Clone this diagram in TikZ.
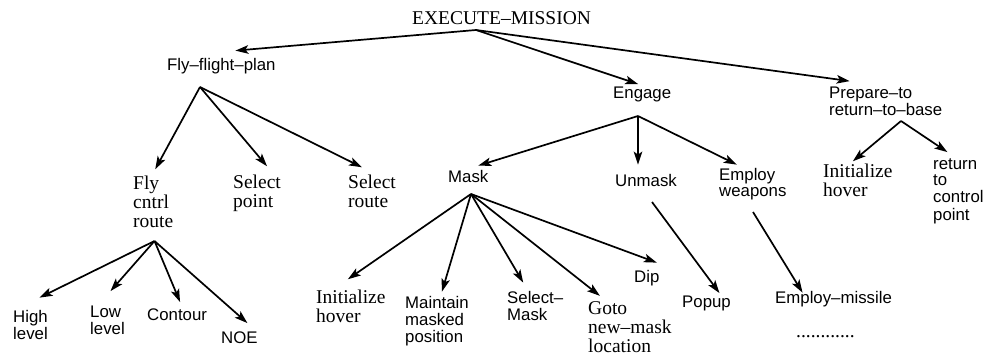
\documentclass[tikz,border=0pt]{standalone}
\usepackage{fontspec}
\setmainfont{Liberation Serif}
\setsansfont{Liberation Sans}
\usetikzlibrary{arrows.meta}
\newcommand{\lns}[1]{\begin{tabular}[t]{@{}l@{}}#1\end{tabular}}

\begin{document}
\begin{tikzpicture}[x=1pt,y=-1pt,
  rm/.style={inner sep=0pt,anchor=base west,font=\fontsize{19.5}{19}\selectfont},
  sf/.style={inner sep=0pt,anchor=base west,font=\sffamily\fontsize{16.8}{16.7}\selectfont},
  arr/.style={-{Stealth[length=13pt,width=8.5pt,inset=3pt]},line width=1.7pt}]
\useasboundingbox (0,0) rectangle (984,356);
\node[rm] (em) at (412,24) {\lns{EXECUTE–MISSION}};
\node[sf] (ffp) at (167,70) {\lns{Fly–flight–plan}};
\node[sf] (eng) at (613,98) {\lns{Engage}};
\node[sf] (ptb) at (829,98) {\lns{Prepare–to\\return–to–base}};
\node[rm] (fcr) at (133,189) {\lns{Fly\\cntrl\\route}};
\node[rm] (spt) at (233,188) {\lns{Select\\point}};
\node[rm] (srt) at (348,188) {\lns{Select\\route}};
\node[sf] (mask) at (448,182) {\lns{Mask}};
\node[sf] (unm) at (615,186) {\lns{Unmask}};
\node[sf] (ewp) at (719,180) {\lns{Employ\\weapons}};
\node[rm] (ih1) at (823,177) {\lns{Initialize\\hover}};
\node[sf] (rtc) at (933,169) {\lns{return\\to\\control\\point}};
\node[sf] (hl) at (13,322) {\lns{High\\level}};
\node[sf] (ll) at (90,317) {\lns{Low\\level}};
\node[sf] (cnt) at (147,320) {\lns{Contour}};
\node[sf] (noe) at (221,343) {\lns{NOE}};
\node[rm] (ih2) at (316,303) {\lns{Initialize\\hover}};
\node[sf] (mmp) at (405,308) {\lns{Maintain\\masked\\position}};
\node[sf] (smk) at (507,303) {\lns{Select–\\Mask}};
\node[rm,font=\fontsize{19.5}{18.5}\selectfont] (gnl) at (588,314) {\lns{Goto\\new–mask\\location}};
\node[sf] (dip) at (634,282) {\lns{Dip}};
\node[sf] (pop) at (682,307) {\lns{Popup}};
\node[sf] (emi) at (775,303) {\lns{Employ–missile}};
\node[rm] (dots) at (796,337) {\lns{............}};

\coordinate (emfan) at (476,30);
\draw[arr] (emfan) -- ([xshift=14pt,yshift=7pt]ffp.north);
\draw[arr] (emfan) -- ([xshift=-4pt,yshift=2pt]eng.north);
\draw[arr] (emfan) -- ([xshift=-36pt,yshift=5pt]ptb.north);
\coordinate (ffpfan) at (200,87);
\draw[arr] (ffpfan) -- ([xshift=2pt,yshift=6pt]fcr.north);
\draw[arr] (ffpfan) -- ([xshift=10pt,yshift=8pt]spt.north);
\draw[arr] (ffpfan) -- ([xshift=-10pt,yshift=7pt]srt.north);
\coordinate (engfan) at (638,116);
\draw[arr] (engfan) -- ([xshift=10pt,yshift=4pt]mask.north);
\draw[arr] (engfan) -- ([xshift=-8pt,yshift=9pt]unm.north);
\draw[arr] (engfan) -- ([xshift=-16pt,yshift=3pt]ewp.north);
\coordinate (ptbfan) at (901,121);
\draw[arr] (ptbfan) -- ([xshift=-5pt,yshift=2pt]ih1.north);
\draw[arr] (ptbfan) -- ([xshift=-11pt,yshift=5pt]rtc.north);
\coordinate (fcrfan) at (154.5,241);
\draw[arr] (fcrfan) -- ([xshift=9pt,yshift=12pt]hl.north);
\draw[arr] (fcrfan) -- ([xshift=3pt,yshift=14pt]ll.north);
\draw[arr] (fcrfan) -- ([xshift=3pt,yshift=6pt]cnt.north);
\draw[arr] (fcrfan) -- ([xshift=8pt,yshift=8pt]noe.north);
\coordinate (maskfan) at (471,194);
\draw[arr] (maskfan) -- ([xshift=-3pt,yshift=10pt]ih2.north);
\draw[arr] (maskfan) -- ([xshift=5pt,yshift=4pt]mmp.north);
\draw[arr] (maskfan) -- ([xshift=-12pt,yshift=8pt]smk.north);
\draw[arr] (maskfan) -- ([xshift=-30pt,yshift=5pt]gnl.north);
\draw[arr] (maskfan) -- ([xshift=10pt,yshift=7pt]dip.north);
\coordinate (unmfoot) at (652,202);
\draw[arr] (unmfoot) -- ([xshift=13pt,yshift=2pt]pop.north);
\coordinate (ewpfoot) at (753,212);
\draw[arr] (ewpfoot) -- ([xshift=-31pt,yshift=-2pt]emi.north);
\end{tikzpicture}
\end{document}
